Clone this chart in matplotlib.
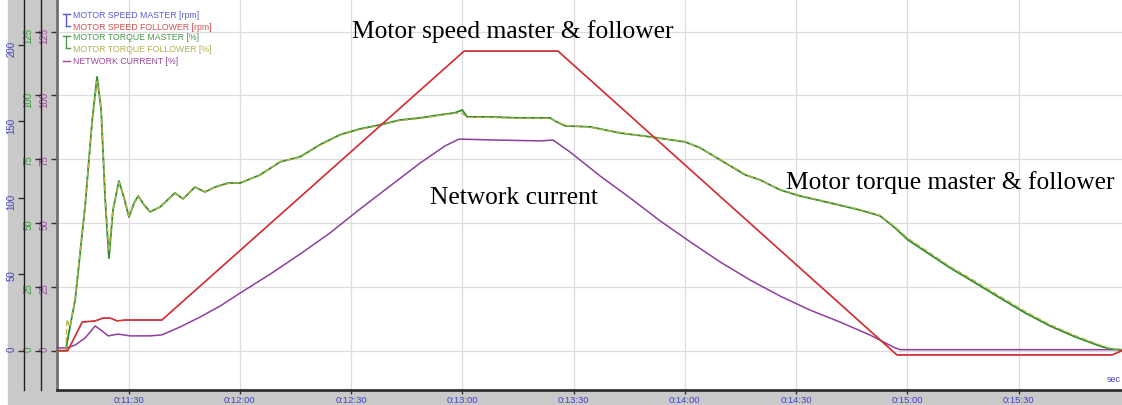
import matplotlib
matplotlib.use("Agg")
import matplotlib.pyplot as plt
from matplotlib.patches import Rectangle
from matplotlib.ticker import FixedLocator, FuncFormatter

# time in seconds (0:11:30 = 690 s)
t_speed = [670.7, 673.6, 677.5, 681.0, 683.1, 685.0, 686.9, 689.1, 699.0,
           780.5, 805.8, 897.2, 955.2, 957.9]
speed_follower = [0, 0, 18.8, 19.5, 21.4, 21.4, 19.5, 20.1, 20.1,
                  196, 196, -2.8, -2.8, 0]
speed_master = [0, 0, 18.6, 19.4, 21.2, 21.3, 19.6, 20.0, 20.0,
                196, 196, -2.6, -2.6, 0]

t_torque = [670.7, 673.1, 673.4, 674.2, 675.6, 678.3, 680.2, 681.5, 682.6, 683.7,
            684.7, 685.8, 687.4, 688.8, 690.1, 691.5, 692.6, 694.2, 695.8, 698.5,
            702.5, 704.7, 707.9, 710.6, 713.3, 716.8, 720.1, 725.5, 730.9, 736.3,
            741.6, 747.0, 752.4, 757.8, 763.2, 768.6, 774.0, 778.0, 780.0, 781.3,
            787.5, 795.6, 803.7, 805.0, 807.7, 814.5, 822.5, 830.6, 840.1, 844.1,
            849.5, 856.3, 860.3, 865.7, 871.1, 879.2, 887.3, 892.7, 896.7, 900.2,
            906.2, 911.5, 918.3, 925.0, 931.8, 938.5, 945.3, 952.0, 954.7, 957.9]
torque_master = [0, 0, 3.0, 9.3, 19.9, 57.0, 90.4, 107.3, 94.4, 59.1,
                 36.3, 55.1, 66.5, 59.8, 52.4, 57.9, 60.6, 57.1, 54.4, 56.3,
                 61.8, 59.5, 64.1, 62.2, 64.1, 65.7, 65.7, 68.9, 74.0, 76.0,
                 80.7, 84.6, 86.9, 88.5, 90.4, 91.2, 92.4, 93.2, 94.3, 91.6,
                 91.6, 91.2, 91.2, 90.0, 88.1, 87.7, 85.3, 83.8, 81.8, 79.5,
                 74.8, 68.9, 66.9, 63.0, 60.6, 57.9, 55.1, 52.8, 48.1, 43.4,
                 37.6, 32.5, 26.6, 20.7, 14.8, 9.7, 5.4, 1.8, 0.7, 0.3]
torque_follower = [0, 0, 12.3, 9.3, 20.5, 57.5, 90.0, 105.5, 95.0, 60.5,
                   39.0, 55.5, 66.0, 60.0, 52.8, 57.6, 60.4, 57.3, 54.6, 56.2,
                   61.6, 59.7, 63.9, 62.4, 64.0, 65.5, 65.9, 68.7, 74.2, 75.8,
                   80.5, 84.4, 86.7, 88.3, 90.2, 91.0, 92.2, 93.0, 93.0, 91.4,
                   91.4, 91.0, 91.0, 90.2, 88.3, 87.5, 85.5, 83.6, 82.0, 79.3,
                   75.0, 69.1, 66.7, 63.2, 60.8, 58.1, 55.3, 53.0, 48.5, 44.0,
                   38.2, 33.0, 27.2, 21.3, 15.4, 10.2, 5.9, 2.2, 0.9, 0.4]

t_current = [670.7, 673.4, 675.6, 678.3, 681.0, 682.9, 684.5, 687.2, 690.4, 695.8,
             699.0, 703.9, 709.3, 714.7, 720.1, 728.2, 736.3, 744.3, 752.4, 760.5,
             768.6, 775.3, 779.1, 790.2, 800.9, 804.5, 809.1, 817.2, 825.3, 833.4,
             841.5, 849.6, 857.6, 865.7, 873.8, 881.9, 890.0, 896.7, 898.1, 957.9]
network_current = [1.1, 1.1, 2.2, 5.0, 9.7, 7.7, 5.8, 6.5, 5.8, 5.8,
                   6.2, 9.3, 13.2, 17.5, 22.6, 30.0, 37.9, 46.1, 55.5, 64.5,
                   73.5, 80.2, 82.9, 82.5, 82.2, 82.5, 77.8, 68.4, 59.8, 50.8,
                   42.6, 34.7, 27.7, 21.4, 15.9, 11.2, 6.1, 1.1, 0.4, 0.4]

time_ticks = [690, 720, 750, 780, 810, 840, 870, 900, 930]
pct_ticks = [0, 25, 50, 75, 100, 125]
rpm_ticks = [0, 50, 100, 150, 200]

legend_items = [("MOTOR SPEED MASTER [rpm]", "#5a5ad2"),
                ("MOTOR SPEED FOLLOWER [rpm]", "#d05050"),
                ("MOTOR TORQUE MASTER [%]", "#4a9a4a"),
                ("MOTOR TORQUE FOLLOWER [%]", "#b0b050"),
                ("NETWORK CURRENT [%]", "#9a4a9a")]

W, H = 1122, 405
GREY = "#c9c9c9"
BLUE, GREEN, PURPLE = "#4444c4", "#3a9a3a", "#9a4a9a"

plt.rcParams["font.family"] = ["Liberation Sans", "DejaVu Sans"]
fig = plt.figure(figsize=(W / 100, H / 100), dpi=100, facecolor="white")
fig.patches.append(Rectangle((8 / W, 0), 1 - 8 / W, 1, transform=fig.transFigure,
                             color=GREY, zorder=-10))

left, bottom = 57 / W, 15 / H
ax = fig.add_axes([left, bottom, 1 - left, 1 - bottom])
ax.set_facecolor("white")
ax.set_xlim(670.7, 957.9)
ax.set_ylim(-15.4, 137.4)

ax_g = ax.twinx()
ax_b = ax.twinx()
for a in (ax_g, ax_b):
    a.yaxis.set_ticks_position("left")
    for s in ("right", "top", "bottom"):
        a.spines[s].set_visible(False)
    a.spines["left"].set_visible(True)
    a.spines["left"].set_color("#202020")
    a.spines["left"].set_linewidth(1.0)
ax_g.spines["left"].set_position(("axes", -16 / 1065))
ax_b.spines["left"].set_position(("axes", -33 / 1065))
ax_g.set_ylim(-15.4, 137.4)
ax_b.set_ylim(-25.7, 229.4)

for s in ("right", "top"):
    ax.spines[s].set_visible(False)
ax.spines["left"].set_color("#707070")
ax.spines["left"].set_linewidth(2)
ax.spines["bottom"].set_color("#303030")
ax.spines["bottom"].set_linewidth(2)

ax.grid(True, color="#dcdcdc", linewidth=0.9)
ax.set_axisbelow(True)

# y axes
for a, ticks, col in ((ax, pct_ticks, PURPLE), (ax_g, pct_ticks, GREEN), (ax_b, rpm_ticks, BLUE)):
    a.yaxis.set_major_locator(FixedLocator(ticks))
    a.tick_params(axis="y", direction="out", length=4, width=1, color="#303030",
                  labelcolor=col, labelsize=7, labelrotation=90, pad=1.5)

# x axis
ax.xaxis.set_major_locator(FixedLocator(time_ticks))
ax.xaxis.set_major_formatter(FuncFormatter(lambda v, p: f"0:{int(v) // 60:02d}:{int(v) % 60:02d}"))
ax.tick_params(axis="x", direction="out", length=3, width=1, color="#303030",
               labelcolor=BLUE, labelsize=6.8, pad=1.5)

# data
ax.plot(t_current, network_current, color="#8e3e9e", lw=1.1, zorder=3)
ax_g.plot(t_torque, torque_master, color="#2e8b2e", lw=1.3)
ax_g.plot(t_torque, torque_follower, color="#b4b44a", lw=1.0, ls=(0, (4, 2)))
ax_b.plot(t_speed, speed_master, color="#5050c0", lw=0.6)
ax_b.plot(t_speed, speed_follower, color="#d83030", lw=1.2)

# overlay in pixel coordinates for legend and labels
ov = fig.add_axes([0, 0, 1, 1])
ov.set_xlim(0, W)
ov.set_ylim(H, 0)
ov.axis("off")
ov.patch.set_visible(False)

ys = [16, 27, 38, 49, 61]
for (label, col), y in zip(legend_items, ys):
    ov.text(73, y, label, color=col, fontsize=6.3, va="center", ha="left")
for y0, y1, col in ((ys[0], ys[1], legend_items[0][1]), (ys[2], ys[3], legend_items[2][1])):
    ov.plot([63, 70], [y0 - 2, y0 - 2], color=col, lw=1)
    ov.plot([66.5, 66.5], [y0 - 2, y1 - 1], color=col, lw=1)
    ov.plot([66.5, 70], [y1 - 1, y1 - 1], color=col, lw=1)
ov.plot([63, 70], [ys[4], ys[4]], color=legend_items[4][1], lw=1)

ov.text(1114, 380, "sec", color=BLUE, fontsize=6.5, ha="center", va="center")

serif = ["Liberation Serif", "DejaVu Serif"]
ov.text(513, 32, "Motor speed master & follower", family=serif, fontsize=18.4, ha="center", va="center")
ov.text(514, 198, "Network current", family=serif, fontsize=18.4, ha="center", va="center")
ov.text(950, 183, "Motor torque master & follower", family=serif, fontsize=18.4, ha="center", va="center")

fig.savefig("out.png", dpi=100, facecolor=fig.get_facecolor())
